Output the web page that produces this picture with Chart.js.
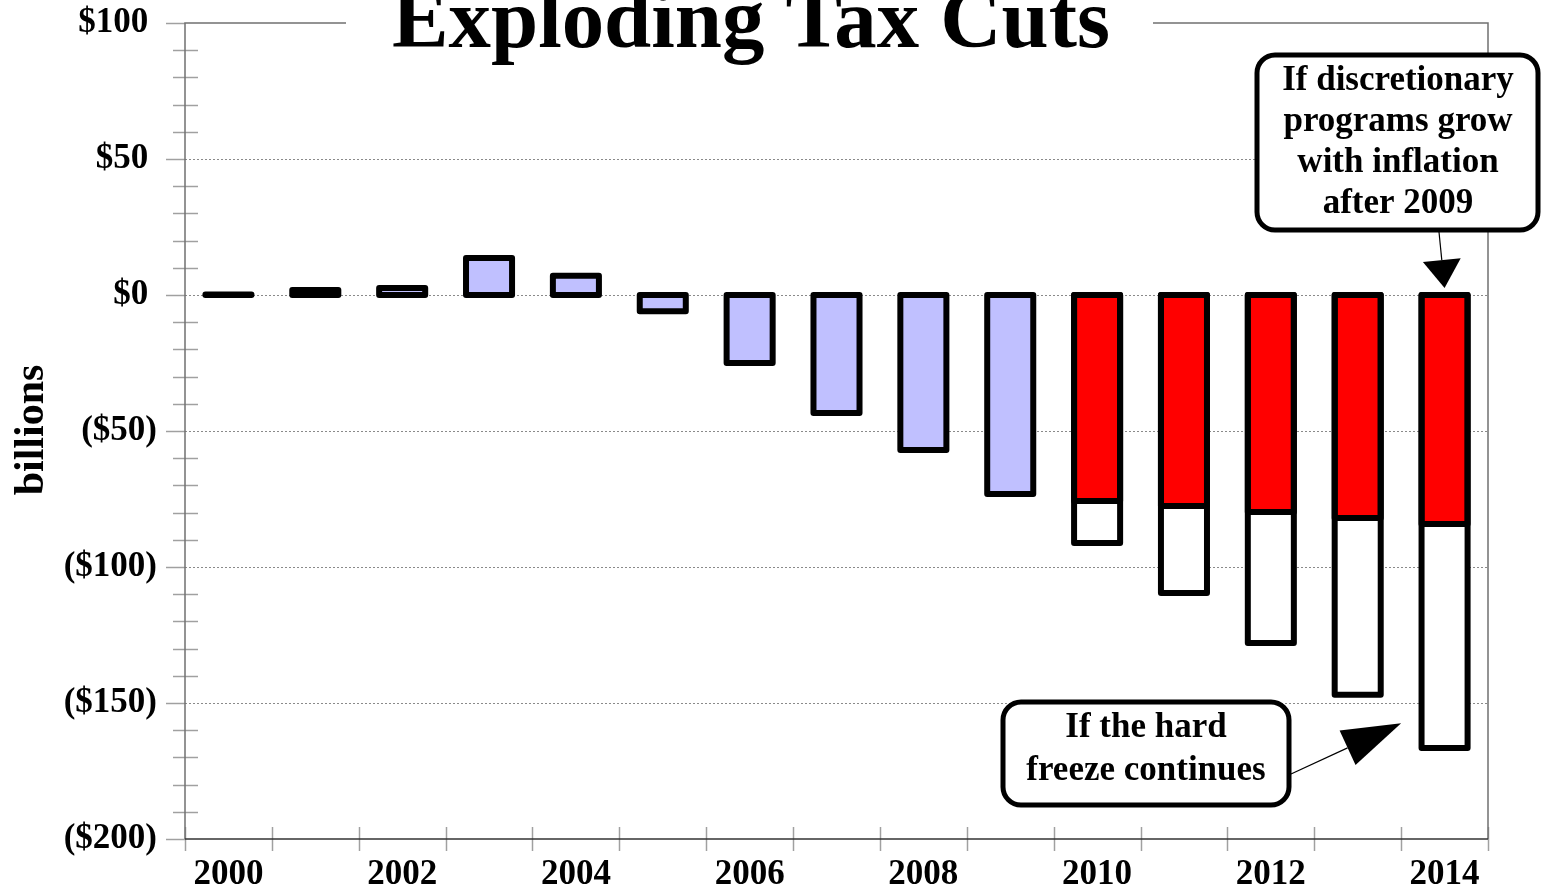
<!DOCTYPE html>
<html>
<head>
<meta charset="utf-8">
<script src="https://cdn.jsdelivr.net/npm/chart.js@4.4.1/dist/chart.umd.min.js"></script>
<style>
  html, body { margin: 0; padding: 0; background: #fff; }
  canvas { display: block; }
</style>
</head>
<body>
<canvas id="taxChart" width="1543" height="890"></canvas>
<script>
// Exploding Tax Cuts — yearly budget effect, billions
const years = ['2000', '2001', '2002', '2003', '2004', '2005', '2006', '2007',
  '2008', '2009', '2010', '2011', '2012', '2013', '2014'];
const enacted = [0.2, 1.8, 2.6, 13.6, 7.1, -6, -25, -43.4, -57, -73.2,
  null, null, null, null, null];
const inflationCase = [null, null, null, null, null, null, null, null, null, null,
  -75.7, -77.6, -79.8, -82, -84.2];
const freezeCase = [null, null, null, null, null, null, null, null, null, null,
  -91.2, -109.6, -127.9, -147, -166.5];
const yTicks = [-200, -150, -100, -50, 0, 50, 100];

const FONT = '"Liberation Serif", "Times New Roman", serif';

function money(v) {
  if (v < 0) return '($' + (-v) + ')';
  return '$' + v + '\u2008';
}

// grid, tick marks and plot frame (drawn under the bars)
const framePlugin = {
  id: 'frame',
  beforeDatasetsDraw(chart) {
    const { ctx, chartArea: a, scales: { x, y } } = chart;
    ctx.save();
    ctx.lineWidth = 1;
    ctx.strokeStyle = '#8a8a8a';
    ctx.setLineDash([2, 2]);
    yTicks.forEach((v) => {
      if (v === -200 || v === 100) return;
      const py = Math.round(y.getPixelForValue(v)) + 0.5;
      ctx.beginPath();
      ctx.moveTo(a.left, py);
      ctx.lineTo(a.right, py);
      ctx.stroke();
    });
    ctx.setLineDash([]);

    ctx.strokeStyle = '#a0a0a0';
    ctx.lineWidth = 1.5;
    for (let v = -200; v <= 100; v += 10) {
      const py = Math.round(y.getPixelForValue(v)) + 0.5;
      ctx.beginPath();
      if (v % 50 === 0) {
        ctx.moveTo(a.left - 19, py);
        ctx.lineTo(a.left, py);
      } else {
        ctx.moveTo(a.left - 12, py);
        ctx.lineTo(a.left + 13, py);
      }
      ctx.stroke();
    }
    for (let i = 0; i <= years.length; i++) {
      const px = Math.round(x.getPixelForValue(i - 0.5)) + 0.5;
      ctx.beginPath();
      ctx.moveTo(px, a.bottom - 12);
      ctx.lineTo(px, a.bottom + 12);
      ctx.stroke();
    }

    ctx.lineWidth = 1.5;
    ctx.strokeStyle = '#707070';
    ctx.beginPath();
    ctx.moveTo(a.left, a.bottom);
    ctx.lineTo(a.left, a.top);
    ctx.lineTo(a.right, a.top);
    ctx.lineTo(a.right, a.bottom);
    ctx.stroke();
    ctx.strokeStyle = '#333';
    ctx.beginPath();
    ctx.moveTo(a.left, a.bottom);
    ctx.lineTo(a.right, a.bottom);
    ctx.stroke();
    ctx.restore();
  }
};

// thick outlines centred on bar edges, like the original
const outlinePlugin = {
  id: 'outline',
  afterDatasetsDraw(chart) {
    const { ctx } = chart;
    ctx.save();
    ctx.lineWidth = 6;
    ctx.lineJoin = 'round';
    ctx.strokeStyle = '#000';
    [2, 1, 0].forEach((di) => {
      const meta = chart.getDatasetMeta(di);
      meta.data.forEach((el, i) => {
        if (chart.data.datasets[di].data[i] == null) return;
        const { x, y, base, width } = el.getProps(['x', 'y', 'base', 'width'], true);
        const top = Math.min(y, base);
        const h = Math.max(Math.abs(base - y), 0.5);
        ctx.strokeRect(x - width / 2, top, width, h);
      });
    });
    ctx.restore();
  }
};

function roundBox(ctx, x, y, w, h, r) {
  ctx.beginPath();
  ctx.roundRect(x, y, w, h, r);
  ctx.fillStyle = '#fff';
  ctx.fill();
  ctx.lineWidth = 5;
  ctx.strokeStyle = '#000';
  ctx.stroke();
}

function arrow(ctx, x0, y0, x1, y1, len, half) {
  const ang = Math.atan2(y1 - y0, x1 - x0);
  const bx = x1 - Math.cos(ang) * len;
  const by = y1 - Math.sin(ang) * len;
  ctx.lineWidth = 1.2;
  ctx.strokeStyle = '#000';
  ctx.beginPath();
  ctx.moveTo(x0, y0);
  ctx.lineTo(bx, by);
  ctx.stroke();
  ctx.fillStyle = '#000';
  ctx.beginPath();
  ctx.moveTo(x1, y1);
  ctx.lineTo(bx + Math.sin(ang) * half, by - Math.cos(ang) * half);
  ctx.lineTo(bx - Math.sin(ang) * half, by + Math.cos(ang) * half);
  ctx.closePath();
  ctx.fill();
}

function lines(ctx, arr, cx, y0, step, size) {
  ctx.font = 'bold ' + size + 'px ' + FONT;
  ctx.fillStyle = '#000';
  ctx.textAlign = 'center';
  ctx.textBaseline = 'alphabetic';
  arr.forEach((t, i) => ctx.fillText(t, cx, y0 + i * step));
}

const notesPlugin = {
  id: 'notes',
  afterDraw(chart) {
    const { ctx, scales: { x, y } } = chart;
    ctx.save();

    // title, sitting over the top frame line
    ctx.fillStyle = '#fff';
    ctx.fillRect(346, 0, 807, 32);
    const title = 'Exploding Tax Cuts';
    ctx.font = 'bold 100px ' + FONT;
    const size = 100 * 718 / ctx.measureText(title).width;
    ctx.font = 'bold ' + size.toFixed(1) + 'px ' + FONT;
    ctx.fillStyle = '#000';
    ctx.textAlign = 'center';
    ctx.textBaseline = 'alphabetic';
    ctx.fillText(title, 751, 47);

    // y axis title
    ctx.save();
    ctx.translate(43, 430);
    ctx.rotate(-Math.PI / 2);
    ctx.font = 'bold 42px ' + FONT;
    ctx.fillText('billions', 0, 0);
    ctx.restore();

    // upper note -> 2014 bar
    arrow(ctx, 1439, 232, x.getPixelForValue(14), y.getPixelForValue(0) - 7, 28, 19);
    roundBox(ctx, 1257, 55, 281, 175, 18);
    lines(ctx, ['If discretionary', 'programs grow', 'with inflation', 'after 2009'],
      1398, 90, 41, 35);

    // lower note -> freeze bars
    arrow(ctx, 1291, 774, x.getPixelForValue(13.5), y.getPixelForValue(-157.4), 59, 19);
    roundBox(ctx, 1003, 702, 286, 103, 18);
    lines(ctx, ['If the hard', 'freeze continues'], 1146, 737, 43, 35);

    ctx.restore();
  }
};

new Chart(document.getElementById('taxChart').getContext('2d'), {
  type: 'bar',
  data: {
    labels: years,
    datasets: [
      { label: 'Enacted', data: enacted, backgroundColor: '#c0c0ff', order: 0 },
      { label: 'Inflation after 2009', data: inflationCase, backgroundColor: '#ff0000', order: 1 },
      { label: 'Hard freeze', data: freezeCase, backgroundColor: '#ffffff', order: 2 }
    ]
  },
  options: {
    responsive: false,
    animation: false,
    layout: { padding: { left: 0, right: 55, top: 23, bottom: 0 } },
    datasets: {
      bar: { grouped: false, borderWidth: 0, barPercentage: 0.53, categoryPercentage: 1 }
    },
    plugins: { legend: { display: false }, tooltip: { enabled: false }, title: { display: false } },
    scales: {
      x: {
        offset: true,
        grid: { display: false, drawTicks: false },
        border: { display: false },
        afterFit: (s) => { s.height = 51; s.paddingLeft = 0; s.paddingRight = 0; },
        ticks: {
          autoSkip: false,
          maxRotation: 0,
          padding: 15,
          color: '#000',
          font: { family: FONT, size: 35, weight: 'bold' },
          callback: (v, i) => (i % 2 === 0 ? years[i] : '')
        }
      },
      y: {
        min: -200,
        max: 100,
        grid: { display: false, drawTicks: false },
        border: { display: false },
        afterFit: (s) => { s.width = 185; s.paddingTop = 0; s.paddingBottom = 0; },
        afterBuildTicks: (s) => { s.ticks = yTicks.map((v) => ({ value: v })); },
        ticks: {
          padding: 28,
          color: '#000',
          font: { family: FONT, size: 35, weight: 'bold' },
          callback: (v) => money(v)
        }
      }
    }
  },
  plugins: [framePlugin, outlinePlugin, notesPlugin]
});
</script>
</body>
</html>
